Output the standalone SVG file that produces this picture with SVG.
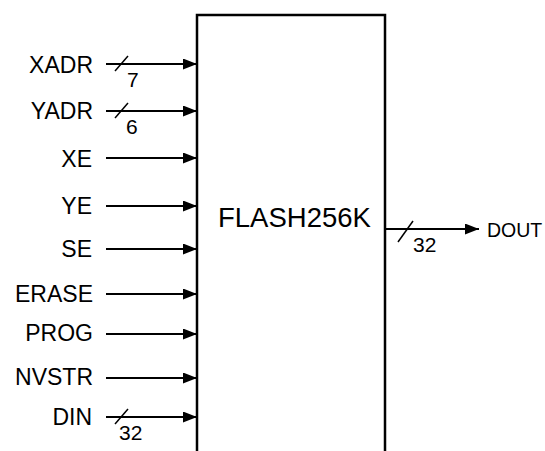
<svg xmlns="http://www.w3.org/2000/svg" width="545" height="451" viewBox="0 0 545 451">
<defs>
<marker id="ah" markerUnits="userSpaceOnUse" markerWidth="16" markerHeight="12" refX="14" refY="5.5" orient="auto">
<path d="M0,0 L14,5.5 L0,11 z" fill="#000"/>
</marker>
<style>
.lbl{font-family:"Liberation Sans",Arial,sans-serif;font-size:23px;fill:#000;text-anchor:end}
.num{font-family:"Liberation Sans",Arial,sans-serif;font-size:21px;fill:#000}
.w{stroke:#000;stroke-width:2;fill:none;marker-end:url(#ah)}
.sl{stroke:#000;stroke-width:1.5}
</style>
</defs>
<rect width="545" height="451" fill="#fff"/>
<g id="flash256k">
<rect x="197" y="15" width="188" height="460" fill="#fff" stroke="#000" stroke-width="2.5"/>
<text x="218" y="227" style="font-family:'Liberation Sans',Arial,sans-serif;font-size:27.5px">FLASH256K</text>
</g>
<g id="labels">
<text class="lbl" x="93" y="73">XADR</text>
<text class="lbl" x="93" y="119">YADR</text>
<text class="lbl" x="92" y="167">XE</text>
<text class="lbl" x="92" y="214">YE</text>
<text class="lbl" x="92" y="257">SE</text>
<text class="lbl" x="93" y="302">ERASE</text>
<text class="lbl" x="93" y="341">PROG</text>
<text class="lbl" x="93" y="385">NVSTR</text>
<text class="lbl" x="92" y="425">DIN</text>
<text x="487" y="237" style="font-family:'Liberation Sans',Arial,sans-serif;font-size:19.5px">DOUT</text>
</g>
<g id="connectors">
<line class="w" x1="106" y1="64" x2="197" y2="64"/>
<line class="w" x1="106" y1="111" x2="197" y2="111"/>
<line class="w" x1="106" y1="158" x2="197" y2="158"/>
<line class="w" x1="106" y1="206" x2="197" y2="206"/>
<line class="w" x1="106" y1="249" x2="197" y2="249"/>
<line class="w" x1="106" y1="294" x2="197" y2="294"/>
<line class="w" x1="106" y1="334" x2="197" y2="334"/>
<line class="w" x1="106" y1="378" x2="197" y2="378"/>
<line class="w" x1="106" y1="417" x2="197" y2="417"/>
<line class="w" x1="386" y1="229" x2="479" y2="229"/>
<line class="sl" x1="115" y1="71" x2="128" y2="56"/>
<line class="sl" x1="115" y1="118" x2="128" y2="103"/>
<line class="sl" x1="115" y1="424" x2="128" y2="409"/>
<line class="sl" x1="398" y1="242" x2="413" y2="221"/>
<text class="num" x="127" y="87">7</text>
<text class="num" x="126" y="134">6</text>
<text class="num" x="119" y="440">32</text>
<text class="num" x="413" y="252">32</text>
</g>
</svg>
